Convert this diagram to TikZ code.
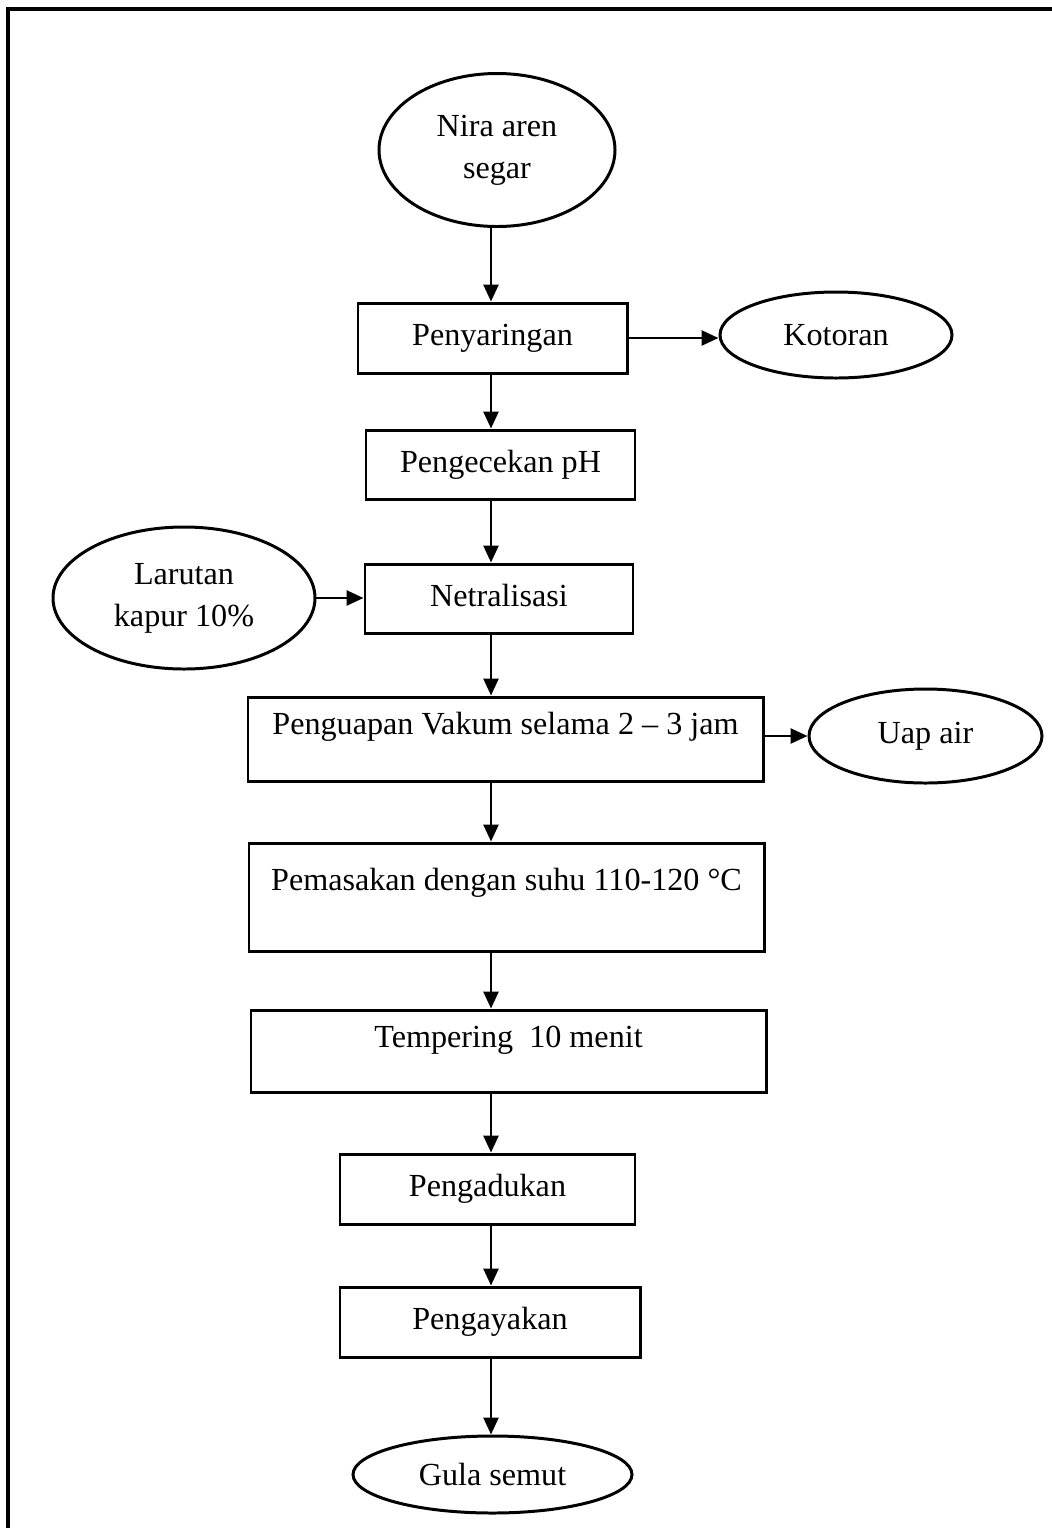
\documentclass[tikz,border=0pt]{standalone}
\usepackage{fontspec}
\setmainfont{Liberation Serif}
\usetikzlibrary{shapes.geometric,arrows.meta}

\begin{document}
\begin{tikzpicture}[
  font=\fontsize{18.3}{24}\selectfont,
  kotak/.style={draw,rectangle,line width=1.7pt,inner sep=0pt,text height=0.45cm,text depth=0.15cm},
  elips/.style={draw,ellipse,line width=1.7pt,inner sep=0pt,align=center},
  panah/.style={line width=1.5pt,-{Triangle[length=0.34cm,width=0.3cm]}}
]
\useasboundingbox (0,0) rectangle (21.04,-30.56);
\draw[line width=1.8pt] (0.16,-30.56) -- (0.16,-0.18) -- (21.04,-0.18);
\coordinate (x) at (9.82,0);

\node[elips,minimum width=4.72cm,minimum height=3.06cm] (b1) at (9.94,-3) {Nira aren\\segar};
\node[kotak,minimum width=5.38cm,minimum height=1.4cm] (p1) at (9.85,-6.76) {Penyaringan};
\draw[panah] (b1.south -| x) -- (p1.north -| x);
\node[elips,minimum width=4.64cm,minimum height=1.72cm] (k1) at (16.72,-6.7) {Kotoran};
\draw[panah] (p1.east) -- (p1.east -| k1.west);

\node[kotak,minimum width=5.38cm,minimum height=1.38cm] (p2) at (10.01,-9.29) {Pengecekan pH};
\draw[panah] (p1.south -| x) -- (p2.north -| x);

\node[kotak,minimum width=5.36cm,minimum height=1.38cm] (p3) at (9.98,-11.97) {Netralisasi};
\draw[panah] (p2.south -| x) -- (p3.north -| x);
\node[elips,minimum width=5.24cm,minimum height=2.84cm] (b2) at (3.68,-11.96) {Larutan\\kapur 10\%};
\draw[panah] (b2.east) -- (b2.east -| p3.west);

\node[kotak,minimum width=10.3cm,minimum height=1.68cm,text depth=0.63cm] (p4) at (10.11,-14.78) {Penguapan Vakum selama 2 -- 3 jam};
\draw[panah] (p3.south -| x) -- (p4.north -| x);
\node[elips,minimum width=4.66cm,minimum height=1.88cm] (k2) at (18.51,-14.72) {Uap air};
\draw[panah] (p4.east |- k2.west) -- (k2.west);

\node[kotak,minimum width=10.3cm,minimum height=2.16cm,text depth=0.71cm] (p5) at (10.13,-17.94) {Pemasakan dengan suhu 110-120 °C};
\draw[panah] (p4.south -| x) -- (p5.north -| x);

\node[kotak,minimum width=10.3cm,minimum height=1.64cm,text depth=0.59cm] (p6) at (10.17,-21.02) {Tempering\ \ 10 menit};
\draw[panah] (p5.south -| x) -- (p6.north -| x);

\node[kotak,minimum width=5.9cm,minimum height=1.4cm] (p7) at (9.75,-23.78) {Pengadukan};
\draw[panah] (p6.south -| x) -- (p7.north -| x);

\node[kotak,minimum width=6cm,minimum height=1.4cm] (p8) at (9.8,-26.44) {Pengayakan};
\draw[panah] (p7.south -| x) -- (p8.north -| x);

\node[elips,minimum width=5.58cm,minimum height=1.54cm] (h) at (9.85,-29.49) {Gula semut};
\draw[panah] (p8.south -| x) -- (h.north -| x);
\end{tikzpicture}
\end{document}
